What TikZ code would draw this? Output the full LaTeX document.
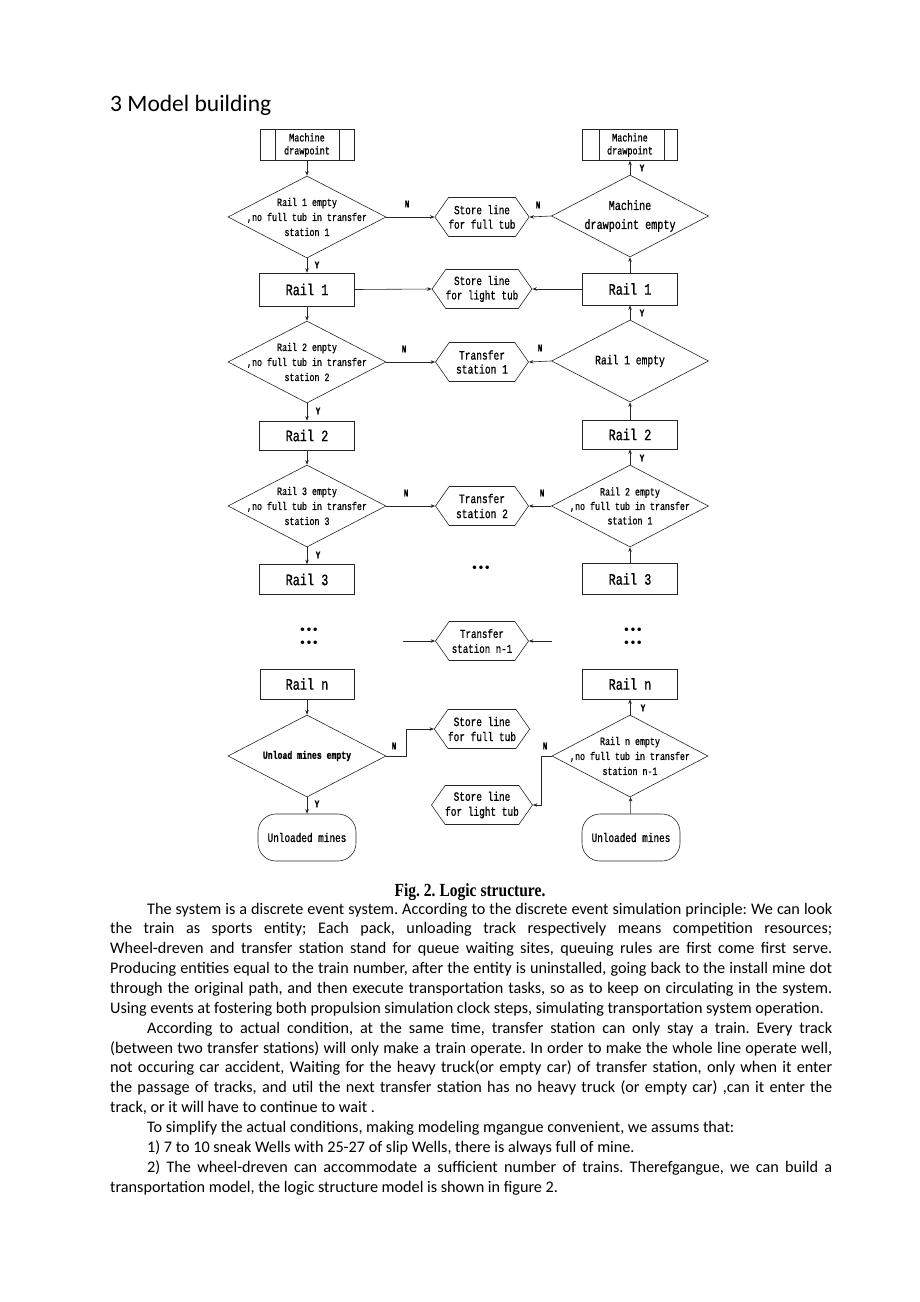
\documentclass[tikz,border=0pt]{standalone}
\usepackage{fontspec}
\setmainfont{Carlito}
\newfontfamily\fc[FakeStretch=0.75,FakeBold=0.8]{Liberation Mono}
\newfontfamily\capfont[FakeStretch=0.84]{Liberation Serif}
\newfontfamily\dotfont{DejaVu Sans}
\usetikzlibrary{shapes.geometric,shapes.symbols,arrows.meta}
\frenchspacing
\newcommand{\bodyj}[3]{\node[anchor=base west,inner sep=0pt,font=\fontsize{16.2}{19.86}\selectfont] (#1) at (110,#2) {\hbox to 722pt{#3}};}
\newcommand{\bodyl}[3]{\node[anchor=base west,inner sep=0pt,font=\fontsize{16.2}{19.86}\selectfont] (#1) at (110,#2) {\hbox{#3}};}
\tikzset{
 line/.style={draw=black!85, line width=0.6pt},
 arr/.style={line, -{Stealth[length=4.5pt,width=3.5pt]}},
 boxA/.style={draw=black!85, line width=0.6pt, rectangle, inner sep=0pt, minimum width=95pt, minimum height=31pt, font=\fc\fontsize{15.8}{17}\selectfont},
 dia/.style={draw=black!85, line width=0.6pt, diamond, inner sep=0pt, minimum width=158pt, minimum height=82pt},
 dtext/.style={align=center, font=\fc\fontsize{11.1}{15}\selectfont, inner sep=0pt},
 hex/.style={draw=black!85, line width=0.6pt, signal, signal to=west and east, signal pointer angle=110, inner sep=0pt, minimum width=93pt, minimum height=39pt, align=center, font=\fc\fontsize{12.4}{14.5}\selectfont},
 term/.style={draw=black!85, line width=0.6pt, rounded corners=18pt, minimum width=98pt, minimum height=47pt, inner sep=0pt, font=\fc\fontsize{12.5}{13}\selectfont},
 yn/.style={font=\fc\bfseries\fontsize{10}{10}\selectfont, inner sep=0pt},
 dots/.style={font=\dotfont\bfseries\fontsize{10}{10}\selectfont, inner sep=0pt},
}
\begin{document}
\begin{tikzpicture}[x=1pt,y=-1pt]
\useasboundingbox[fill=white] (0,0) rectangle (920,1302);
% title
\node[anchor=base west, inner sep=0pt, font=\fontsize{23.5}{26}\selectfont] (title) at (110,111) {3 Model building};

% ---------- left column ----------
\node[boxA, minimum width=94pt, align=center, font=\fc\fontsize{11.3}{13}\selectfont] (mdL) at (307,145) {Machine\\drawpoint};
\draw[line] ([xshift=16pt]mdL.north west) -- ([xshift=16pt]mdL.south west);
\draw[line] ([xshift=-15pt]mdL.north east) -- ([xshift=-15pt]mdL.south east);
\node[dia] (d1L) at (307,217) {};
\node[dtext] (d1Lt) at (d1L.center) {Rail 1 empty\\,no full tub in transfer\\station 1};
\node[boxA, minimum height=33pt] (r1L) at (307,289.5) {Rail 1};
\node[dia] (d2L) at (307,362) {};
\node[dtext] (d2Lt) at (d2L.center) {Rail 2 enpty\\,no full tub in transfer\\station 2};
\node[boxA, minimum height=29pt] (r2L) at (307,435.5) {Rail 2};
\node[dia] (d3L) at (307,506) {};
\node[dtext] (d3Lt) at (d3L.center) {Rail 3 empty\\,no full tub in transfer\\station 3};
\node[boxA, minimum height=30pt] (r3L) at (307,579.5) {Rail 3};
\node[dots] (dl1) at (309,631) {•••};
\node[dots] (dl2) at (309,644) {•••};
\node[boxA, minimum width=94pt, minimum height=30pt] (rnL) at (307,684) {Rail n};
\node[dia] (dunL) at (307,756) {};
\node[dtext, font=\fc\bfseries\fontsize{10.9}{12}\selectfont] (dunLt) at (dunL.center) {Unload mines empty};
\node[term] (umL) at (307,837.5) {Unloaded mines};

% ---------- right column ----------
\node[boxA, minimum width=95pt, align=center, font=\fc\fontsize{11.3}{13}\selectfont] (mdR) at (630,145) {Machine\\drawpoint};
\draw[line] ([xshift=17pt]mdR.north west) -- ([xshift=17pt]mdR.south west);
\draw[line] ([xshift=-14pt]mdR.north east) -- ([xshift=-14pt]mdR.south east);
\node[dia, minimum width=157pt] (dmR) at (630,216) {};
\node[dtext, font=\fc\fontsize{13.5}{19}\selectfont] (dmRt) at (dmR.center) {Machine\\drawpoint empty};
\node[boxA, minimum height=32pt] (r1R) at (630,289) {Rail 1};
\node[dia, minimum width=157pt] (d1R) at (630,361) {};
\node[dtext, font=\fc\fontsize{12.9}{14}\selectfont] (d1Rt) at (d1R.center) {Rail 1 empty};
\node[boxA, minimum height=29pt] (r2R) at (630,434.5) {Rail 2};
\node[dia, minimum width=157pt] (d2R) at (630,506) {};
\node[dtext, font=\fc\fontsize{11.1}{14.5}\selectfont] (d2Rt) at (d2R.center) {Rail 2 empty\\,no full tub in transfer\\station 1};
\node[boxA, minimum height=31pt] (r3R) at (630,579) {Rail 3};
\node[dots] (dr1) at (633,631) {•••};
\node[dots] (dr2) at (633,644) {•••};
\node[boxA, minimum height=30pt] (rnR) at (630,684) {Rail n};
\node[dia, minimum width=156pt] (dnR) at (630,756) {};
\node[dtext, font=\fc\fontsize{11.1}{15}\selectfont] (dnRt) at (dnR.center) {Rail n empty\\,no full tub in transfer\\station n-1};
\node[term] (umR) at (631,837.5) {Unloaded mines};

% ---------- middle column ----------
\node[hex] (h1) at (482,217) {Store line\\for full tub};
\node[hex] (h2) at (482,289) {Store line\\for light tub};
\node[hex, font=\fc\fontsize{12.8}{14}\selectfont] (h3) at (482,362) {Transfer\\station 1};
\node[hex, font=\fc\fontsize{12.8}{15}\selectfont] (h4) at (482,506) {Transfer\\station 2};
\node[dots] (dm) at (481,569) {•••};
\node[hex, font=\fc\fontsize{12.2}{15}\selectfont] (h5) at (482,641) {Transfer\\station n-1};
\node[hex, font=\fc\fontsize{12.6}{15}\selectfont] (h6) at (482,729) {Store line\\for full tub};
\node[hex, font=\fc\fontsize{12.6}{15}\selectfont] (h7) at (482,805) {Store line\\for light tub};
\coordinate (c5a) at (403,641);
\coordinate (c5b) at (552,641);

% ---------- connectors left ----------
\draw[arr] (mdL) -- (d1L);
\draw[arr] (d1L) -- (r1L);
\draw[arr] (r1L) -- (d2L);
\draw[arr] (d2L) -- (r2L);
\draw[arr] (r2L) -- (d3L);
\draw[arr] (d3L) -- (r3L);
\draw[arr] (rnL) -- (dunL);
\draw[arr] (dunL) -- (umL);
\draw[arr] (d1L.east) -- (h1.west);
\draw[arr] (r1L.east) -- (h2.west);
\draw[arr] (d2L.east) -- (h3.west);
\draw[arr] (d3L.east) -- (h4.west);
\draw[arr] (c5a) -- (h5.west);
\draw[arr] (dunL.east) -- ++(20,0) |- (h6.west);
% ---------- connectors right ----------
\draw[arr] (dmR) -- (mdR);
\draw[arr] (r1R) -- (dmR);
\draw[arr] (d1R) -- (r1R);
\draw[arr] (r2R) -- (d1R);
\draw[arr] (d2R) -- (r2R);
\draw[arr] (r3R) -- (d2R);
\draw[arr] (dnR) -- (rnR);
\draw[arr] (umR) -- (dnR);
\draw[arr] (dmR.west) -- (h1.east);
\draw[arr] (r1R.west) -- (h2.east);
\draw[arr] (d1R.west) -- (h3.east);
\draw[arr] (d2R.west) -- (h4.east);
\draw[arr] (c5b) -- (h5.east);
\draw[arr] (dnR.west) -- ++(-10,0) |- (h7.east);

% ---------- Y / N labels ----------
\node[yn] (y1) at (317,265) {Y};
\node[yn] (y2) at (318,411) {Y};
\node[yn] (y3) at (318,555) {Y};
\node[yn] (y4) at (317,804) {Y};
\node[yn] (y5) at (642,168) {Y};
\node[yn] (y6) at (642,313) {Y};
\node[yn] (y7) at (642,458) {Y};
\node[yn] (y8) at (643,708) {Y};
\node[yn] (n1) at (407,204) {N};
\node[yn] (n2) at (404,349) {N};
\node[yn] (n3) at (406,493) {N};
\node[yn] (n4) at (394,746) {N};
\node[yn] (n5) at (538,205) {N};
\node[yn] (n6) at (540,348) {N};
\node[yn] (n7) at (542,493) {N};
\node[yn] (n8) at (545,746) {N};

% ---------- caption and text ----------
\node[anchor=base, inner sep=0pt, font=\capfont\bfseries\fontsize{18.5}{20}\selectfont] (cap) at (470,896) {Fig. 2. Logic structure.};
\bodyj{t1}{914}{\hspace*{37pt}The system is a discrete event system. According to the discrete event simulation principle: We can look}
\bodyj{t2}{933.86}{the train as sports entity; Each pack, unloading track respectively means competition resources;}
\bodyj{t3}{953.72}{Wheel-dreven and transfer station stand for queue waiting sites, queuing rules are first come first serve.}
\bodyj{t4}{973.58}{Producing entities equal to the train number, after the entity is uninstalled, going back to the install mine dot}
\bodyj{t5}{993.44}{through the original path, and then execute transportation tasks, so as to keep on circulating in the system.}
\bodyl{t6}{1013.3}{Using events at fostering both propulsion simulation clock steps, simulating transportation system operation.}
\bodyj{t7}{1033.16}{\hspace*{37pt}According to actual condition, at the same time, transfer station can only stay a train. Every track}
\bodyj{t8}{1053.02}{(between two transfer stations) will only make a train operate. In order to make the whole line operate well,}
\bodyj{t9}{1072.88}{not occuring car accident, Waiting for the heavy truck(or empty car) of transfer station, only when it enter}
\bodyj{t10}{1092.74}{the passage of tracks, and util the next transfer station has no heavy truck (or empty car) ,can it enter the}
\bodyl{t11}{1112.6}{track, or it will have to continue to wait .}
\bodyl{t12}{1132.46}{\hspace*{37pt}To simplify the actual conditions, making modeling mgangue convenient, we assums that:}
\bodyl{t13}{1152.32}{\hspace*{37pt}1) 7 to 10 sneak Wells with 25-27 of slip Wells, there is always full of mine.}
\bodyj{t14}{1172.18}{\hspace*{37pt}2) The wheel-dreven can accommodate a sufficient number of trains. Therefgangue, we can build a}
\bodyl{t15}{1192.04}{transportation model, the logic structure model is shown in figure 2.}
\end{tikzpicture}
\end{document}
